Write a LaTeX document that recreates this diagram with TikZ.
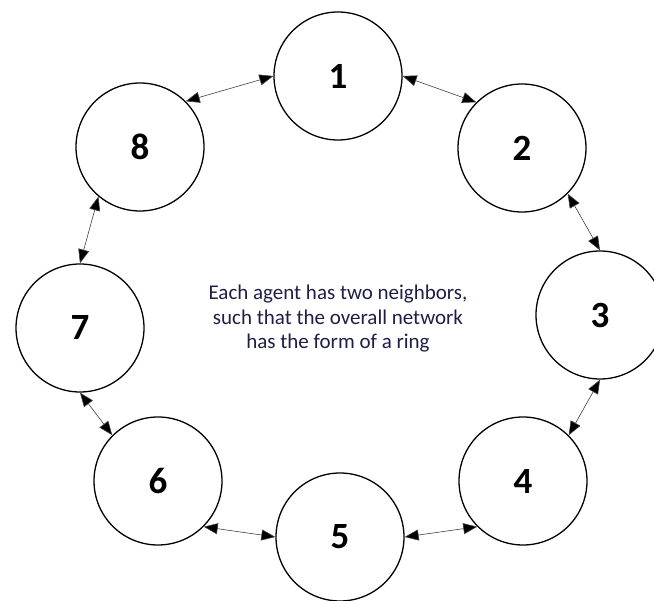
\documentclass[tikz,border=0pt]{standalone}
\usepackage{fontspec}
\setmainfont{Carlito}
\usetikzlibrary{arrows.meta}
\definecolor{navytext}{RGB}{30,30,70}
\tikzset{
  agent/.style={circle, draw=black, line width=1.3pt, minimum size=128pt, inner sep=0pt,
    font=\fontsize{37}{40}\selectfont\bfseries, text=black},
  link/.style={line width=0.6pt, draw=black!75, {Triangle[length=14pt,width=11pt,fill=black]}-{Triangle[length=14pt,width=11pt,fill=black]}},
}
\begin{document}
\begin{tikzpicture}[x=1pt,y=-1pt]
\useasboundingbox (0,0) rectangle (654,601);
\node[agent] (n1) at (338,76) {1};
\node[agent] (n2) at (522,148) {2};
\node[agent] (n3) at (600,315) {3};
\node[agent] (n4) at (523,481) {4};
\node[agent] (n5) at (340,537) {5};
\node[agent] (n6) at (158,481) {6};
\node[agent] (n7) at (80,328) {7};
\node[agent] (n8) at (140,147) {8};
\node[align=center, text=navytext, font=\fontsize{21}{24.5}\selectfont] (txt) at (338,319)
  {Each agent has two neighbors,\\such that the overall network\\has the form of a ring};
\draw[link] (n8.45) -- (n1.180);
\draw[link] (n1.0) -- (n2.135);
\draw[link] (n2.-45) -- (n3.90);
\draw[link] (n3.-90) -- (n4.45);
\draw[link] (n4.225) -- (n5.0);
\draw[link] (n5.180) -- (n6.-45);
\draw[link] (n6.135) -- (n7.-90);
\draw[link] (n7.90) -- (n8.230);
\end{tikzpicture}
\end{document}
